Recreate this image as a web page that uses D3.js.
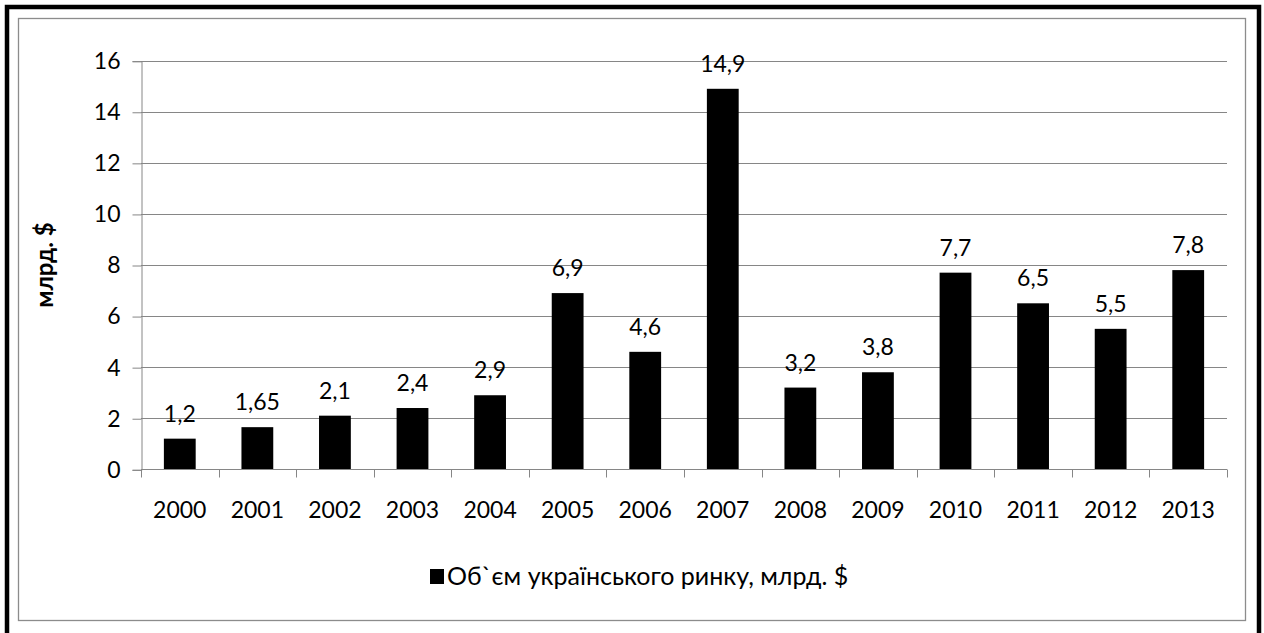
<!DOCTYPE html>
<html>
<head>
<meta charset="utf-8">
<script src="https://cdn.jsdelivr.net/npm/d3@7"></script>
<style>
    body { margin: 0; background: #fff; }
    svg text { font-family: Lato, "Open Sans", sans-serif; fill: #000; }
</style>
</head>
<body>
<svg id="chart" width="1264" height="633"></svg>
<script>
// roky na ose x
const years = ["2000", "2001", "2002", "2003", "2004", "2005", "2006",
    "2007", "2008", "2009", "2010", "2011", "2012", "2013"];
// objem trhu v mld. $
const volumes = [1.2, 1.65, 2.1, 2.4, 2.9, 6.9, 4.6, 14.9, 3.2, 3.8, 7.7, 6.5, 5.5, 7.8];
// popisky nad sloupci
const valueLabels = ["1,2", "1,65", "2,1", "2,4", "2,9", "6,9", "4,6", "14,9", "3,2", "3,8", "7,7", "6,5", "5,5", "7,8"];
const yTicks = [0, 2, 4, 6, 8, 10, 12, 14, 16];
const seriesName = "Об`єм українського ринку, млрд. $";
const yTitle = "млрд. $";

const svg = d3.select("#chart");

// vnejsi cerny ramecek a vnitrni sedy
svg.append("rect")
    .attr("x", 7).attr("y", 7)
    .attr("width", 1252).attr("height", 660)
    .attr("fill", "none").attr("stroke", "#000").attr("stroke-width", 4.5);
svg.append("rect")
    .attr("x", 18.5).attr("y", 18.5)
    .attr("width", 1227).attr("height", 602)
    .attr("fill", "none").attr("stroke", "#8c8c8c").attr("stroke-width", 1.3);

const plot = {left: 141, right: 1227, top: 60.7, bottom: 469.3};

const x = d3.scaleBand()
    .domain(years)
    .range([plot.left, plot.right])
    .paddingInner(0.59)
    .paddingOuter(0.295);
const xb = d3.scaleBand().domain(years).range([plot.left, plot.right]);
const y = d3.scaleLinear().domain([0, 16]).range([plot.bottom, plot.top]);

// mrizka
svg.append("g")
    .selectAll("line")
    .data(yTicks.filter(d => d > 0))
    .join("line")
    .attr("x1", plot.left).attr("x2", plot.right)
    .attr("y1", d => Math.round(y(d)) + 0.5).attr("y2", d => Math.round(y(d)) + 0.5)
    .attr("stroke", "#868686").attr("stroke-width", 1);

// osa y
const yAxis = svg.append("g")
    .attr("transform", "translate(" + (plot.left + 0.5) + ",0.5)")
    .call(d3.axisLeft(y).tickValues(yTicks).tickSizeOuter(0).tickSize(9).tickPadding(12));
yAxis.select(".domain").attr("stroke", "#868686");
yAxis.selectAll(".tick line").attr("stroke", "#868686");
yAxis.selectAll(".tick text").attr("font-size", 23).attr("font-family", "Lato");

// sloupce
svg.append("g")
    .selectAll("rect")
    .data(volumes)
    .join("rect")
    .attr("x", (d, i) => x(years[i]))
    .attr("y", d => y(d))
    .attr("width", x.bandwidth())
    .attr("height", d => y(0) - y(d))
    .attr("fill", "#000");

// osa x
const xAxis = svg.append("g")
    .attr("transform", "translate(0," + (Math.round(plot.bottom) + 0.5) + ")");
xAxis.append("line")
    .attr("x1", plot.left).attr("x2", plot.right)
    .attr("stroke", "#868686");
xAxis.selectAll(".sep")
    .data(years.concat(["end"]))
    .join("line")
    .attr("class", "sep")
    .attr("x1", (d, i) => Math.round(plot.left + i * xb.bandwidth()) + 0.5)
    .attr("x2", (d, i) => Math.round(plot.left + i * xb.bandwidth()) + 0.5)
    .attr("y1", 0).attr("y2", 8)
    .attr("stroke", "#868686");
xAxis.selectAll(".lbl")
    .data(years)
    .join("text")
    .attr("class", "lbl")
    .attr("x", d => xb(d) + xb.bandwidth() / 2)
    .attr("y", 48)
    .attr("text-anchor", "middle")
    .attr("font-size", 23)
    .text(d => d);

// popisky hodnot
svg.append("g")
    .selectAll("text")
    .data(volumes)
    .join("text")
    .attr("x", (d, i) => x(years[i]) + x.bandwidth() / 2)
    .attr("y", d => y(d) - 17)
    .attr("text-anchor", "middle")
    .attr("font-size", 23)
    .text((d, i) => valueLabels[i]);

// nazev osy y
svg.append("text")
    .attr("transform", "translate(53," + ((plot.top + plot.bottom) / 2) + ") rotate(-90)")
    .attr("text-anchor", "middle")
    .attr("font-size", 24)
    .attr("font-weight", "bold")
    .text(yTitle);

// legenda
const legend = svg.append("g").attr("transform", "translate(430,569)");
legend.append("rect").attr("width", 14).attr("height", 15).attr("fill", "#000");
legend.append("text")
    .attr("x", 17).attr("y", 16)
    .attr("font-size", 25)
    .text(seriesName);
</script>
</body>
</html>
